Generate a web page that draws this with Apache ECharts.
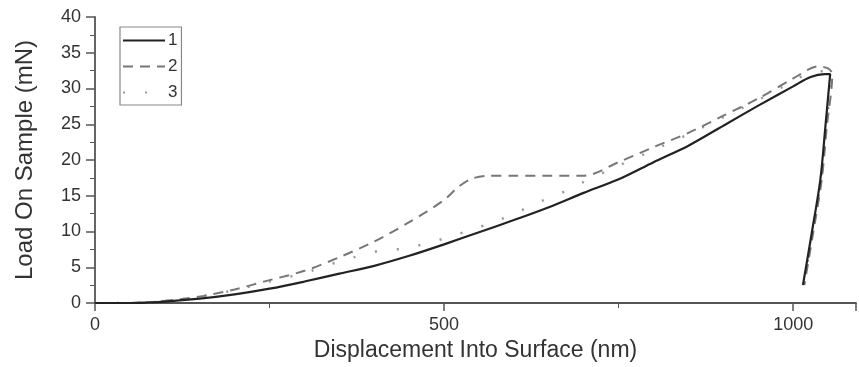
<!DOCTYPE html>
<html>
<head>
<meta charset="utf-8">
<script src="https://cdn.jsdelivr.net/npm/echarts@6/dist/echarts.min.js"></script>
<style>
  html, body { margin: 0; padding: 0; background: #fff; }
  #chart { width: 859px; height: 367px; }
</style>
</head>
<body>
<div id="chart"></div>
<script>
// curve 1 (solid): loading then unloading
const x1 = [0, 50, 100, 150, 200, 250, 300, 350, 400, 450, 500, 550, 600, 650, 700, 750, 800, 850, 900, 950, 1000, 1025, 1045, 1053, 1046, 1039, 1027, 1014];
const y1 = [0, 0, 0.2, 0.6, 1.2, 2.0, 3.0, 4.1, 5.2, 6.6, 8.2, 9.9, 11.6, 13.4, 15.4, 17.3, 19.7, 22.0, 24.8, 27.6, 30.3, 31.6, 32.0, 32.0, 24.5, 17.3, 10, 2.5];
// curve 2 (dashed)
const x2 = [0, 50, 100, 150, 200, 250, 300, 350, 400, 450, 500, 520, 540, 565, 600, 650, 700, 750, 800, 850, 900, 950, 1000, 1036, 1050, 1056, 1048, 1041, 1029, 1016];
const y2 = [0, 0, 0.3, 0.9, 1.9, 3.2, 4.5, 6.4, 8.6, 11.3, 14.4, 16.2, 17.4, 17.8, 17.8, 17.8, 17.8, 19.7, 21.8, 23.8, 26.2, 28.6, 31.4, 33.1, 32.8, 32.0, 24.5, 17.3, 10, 2.5];
// curve 3 (dotted)
const x3 = [0, 50, 100, 150, 200, 250, 300, 350, 412, 445, 476, 507, 540, 571, 603, 633, 664, 697, 750, 800, 850, 900, 950, 1000, 1030, 1048, 1054, 1047, 1040, 1028, 1015];
const y3 = [0, 0, 0.3, 0.9, 1.8, 3.0, 4.2, 5.8, 7.4, 7.6, 8.4, 9.2, 10.3, 11.3, 12.6, 14.0, 15.2, 16.8, 19.2, 21.4, 23.6, 26.0, 28.4, 31.0, 32.4, 32.4, 31.8, 24.5, 17.3, 10, 2.5];

const names = ['1', '2', '3'];
const xTicks = [0, 500, 1000];

function pairs(xs, ys) {
  return xs.map((x, i) => [x, ys[i]]);
}

var chartDom = document.getElementById('chart');
var myChart = echarts.init(chartDom);
var font = 'Liberation Sans, Arial, sans-serif';

var option = {
  animation: false,
  backgroundColor: '#fff',
  grid: {
    left: 95,
    top: 17,
    width: 763,
    height: 286
  },
  legend: {
    orient: 'vertical',
    left: 120,
    top: 27,
    data: names,
    itemWidth: 42,
    itemHeight: 14,
    itemGap: 9,
    padding: [5, 4, 4, 2],
    borderColor: '#888',
    borderWidth: 1.2,
    itemStyle: { opacity: 0 },
    textStyle: { fontFamily: font, fontSize: 17, color: '#333', padding: [0, 0, 0, -2] }
  },
  xAxis: {
    type: 'value',
    min: 0,
    max: 1090,
    interval: 500,
    name: 'Displacement Into Surface (nm)',
    nameLocation: 'middle',
    nameGap: 27,
    nameTextStyle: { fontFamily: font, fontSize: 23, color: '#333' },
    axisLine: { lineStyle: { color: '#555', width: 1.8 } },
    axisTick: { length: 8, lineStyle: { color: '#555', width: 1.5 } },
    minorTick: { show: true, splitNumber: 2, length: 5, lineStyle: { color: '#555' } },
    splitLine: { show: false },
    axisLabel: {
      fontFamily: font, fontSize: 18, color: '#333', margin: 13,
      formatter: v => xTicks.indexOf(v) >= 0 ? String(v) : ''
    }
  },
  yAxis: {
    type: 'value',
    min: 0,
    max: 40,
    interval: 5,
    name: 'Load On Sample (mN)',
    nameLocation: 'middle',
    nameGap: 58,
    nameTextStyle: { fontFamily: font, fontSize: 24, color: '#333' },
    axisLine: { show: true, lineStyle: { color: '#555', width: 1.8 } },
    axisTick: { show: true, length: 9, lineStyle: { color: '#555', width: 1.5 } },
    minorTick: { show: true, splitNumber: 2, length: 5, lineStyle: { color: '#555' } },
    splitLine: { show: false },
    axisLabel: { fontFamily: font, fontSize: 18, color: '#333', margin: 14 }
  },
  series: [
    {
      name: '1',
      type: 'line',
      symbol: 'none',
      smooth: 0.3,
      data: pairs(x1, y1),
      lineStyle: { color: '#222', width: 2.2 },
      itemStyle: { color: '#222' },
      z: 3
    },
    {
      name: '2',
      type: 'line',
      symbol: 'none',
      smooth: 0.3,
      data: pairs(x2, y2),
      lineStyle: { color: '#777', width: 2, type: [10, 7] },
      itemStyle: { color: '#777' },
      z: 2
    },
    {
      name: '3',
      type: 'line',
      symbol: 'none',
      smooth: 0.3,
      data: pairs(x3, y3),
      lineStyle: { color: '#999', width: 2.5, type: [2, 20] },
      itemStyle: { color: '#999' },
      z: 1
    }
  ]
};

option && myChart.setOption(option);
</script>
</body>
</html>
